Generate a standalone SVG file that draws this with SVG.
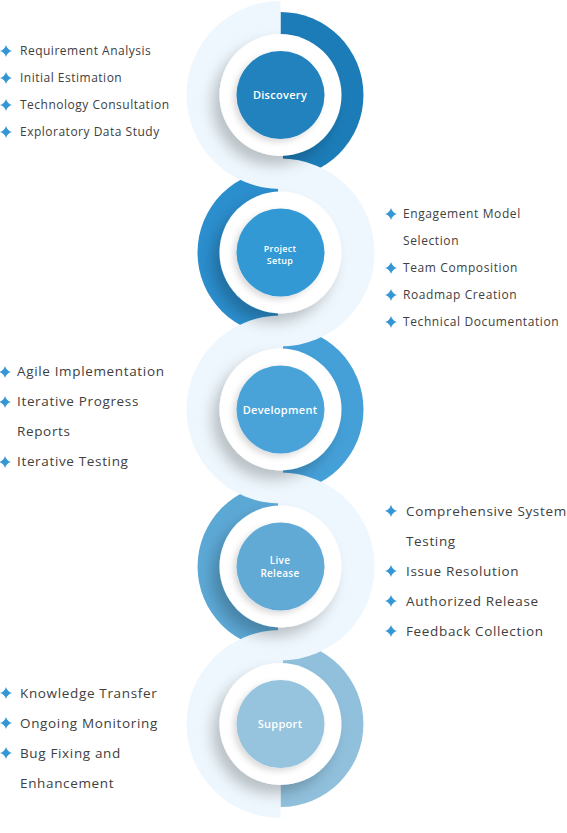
<svg xmlns="http://www.w3.org/2000/svg" xmlns:xlink="http://www.w3.org/1999/xlink" width="567" height="833" viewBox="0 0 567 833">
<style>
.pale{fill:#eef7fd}
.white{fill:#ffffff}
.lbl{font-family:"Open Sans","Liberation Sans",sans-serif;font-weight:600;fill:#ffffff;text-anchor:middle;letter-spacing:0.3px}
.item{font-family:"Open Sans","Liberation Sans",sans-serif;fill:#404040}
.s1{font-size:12px;letter-spacing:0.5px}
.s2{font-size:12px;letter-spacing:0.6px}
.s3{font-size:13.5px;letter-spacing:0.65px}
.bul{fill:#3596d5}
</style>
<defs>
<filter id="sh" x="-40%" y="-40%" width="180%" height="180%">
<feDropShadow dx="-7" dy="9" stdDeviation="7" flood-color="#000" flood-opacity="0.22"/>
</filter>
<filter id="sh2" x="-30%" y="-30%" width="160%" height="160%">
<feDropShadow dx="-3" dy="3" stdDeviation="3" flood-color="#000" flood-opacity="0.15"/>
</filter>
<path id="b" d="M0,-6 Q1.3,-1.3 6,0 Q1.3,1.3 0,6 Q-1.3,1.3 -6,0 Q-1.3,-1.3 0,-6Z"/>
</defs>
<rect width="567" height="833" fill="#ffffff"/>
<!-- coloured half rings -->
<g id="arcs">
<path d="M280.5,12 A83,83 0 0 1 280.5,178 Z" fill="#1c7cb8"/>
<path d="M280.5,169.5 A83,83 0 0 0 280.5,335.5 Z" fill="#2b8ecd"/>
<path d="M280.5,326.5 A83,83 0 0 1 280.5,492.5 Z" fill="#45a0d8"/>
<path d="M280.5,483.5 A83,83 0 0 0 280.5,649.5 Z" fill="#5ca8d5"/>
<path d="M280.5,641 A83,83 0 0 1 280.5,807 Z" fill="#90c0dc"/>
</g>
<!-- pale S band -->
<g id="connectors">
<path class="pale" d="M280.5,1 A94,94 0 0 0 280.5,189 Z"/>
<path class="pale" d="M280.5,158.5 A94,94 0 0 1 280.5,346.5 Z"/>
<path class="pale" d="M280.5,315.5 A94,94 0 0 0 280.5,503.5 Z"/>
<path class="pale" d="M280.5,472.5 A94,94 0 0 1 280.5,660.5 Z"/>
<path class="pale" d="M280.5,630 A94,94 0 0 0 280.5,818 Z"/>
<rect class="pale" x="278" y="150" width="5" height="46"/>
<rect class="pale" x="278" y="307" width="5" height="46"/>
<rect class="pale" x="278" y="464" width="5" height="46"/>
<rect class="pale" x="278" y="621" width="5" height="46"/>
</g>
<g id="discovery">
<circle class="white" cx="280.5" cy="95" r="61" filter="url(#sh)"/>
<circle cx="280.5" cy="95" r="44" fill="#2182be" filter="url(#sh2)"/>
<text class="lbl" x="280" y="99" font-size="11">Discovery</text>
</g>
<g id="project-setup">
<circle class="white" cx="280.5" cy="252.5" r="61" filter="url(#sh)"/>
<circle cx="280.5" cy="252.5" r="44" fill="#3399d5" filter="url(#sh2)"/>
<text class="lbl" x="280" y="251.5" font-size="9">Project</text>
<text class="lbl" x="280" y="263.5" font-size="9">Setup</text>
</g>
<g id="development">
<circle class="white" cx="280.5" cy="409.5" r="61" filter="url(#sh)"/>
<circle cx="280.5" cy="409.5" r="44" fill="#4aa3d9" filter="url(#sh2)"/>
<text class="lbl" x="280" y="414" font-size="11">Development</text>
</g>
<g id="live-release">
<circle class="white" cx="280.5" cy="566.5" r="61" filter="url(#sh)"/>
<circle cx="280.5" cy="566.5" r="44" fill="#62aad6" filter="url(#sh2)"/>
<text class="lbl" x="280" y="563.5" font-size="10">Live</text>
<text class="lbl" x="280" y="577" font-size="10">Release</text>
</g>
<g id="support">
<circle class="white" cx="280.5" cy="724" r="61" filter="url(#sh)"/>
<circle cx="280.5" cy="724" r="44" fill="#96c4de" filter="url(#sh2)"/>
<text class="lbl" x="280" y="728" font-size="11">Support</text>
</g>
<g id="list-discovery">
<use xlink:href="#b" class="bul" x="6" y="51"/>
<use xlink:href="#b" class="bul" x="6" y="78"/>
<use xlink:href="#b" class="bul" x="6" y="105"/>
<use xlink:href="#b" class="bul" x="6" y="132"/>
<text class="item s1" x="20" y="55">Requirement Analysis</text>
<text class="item s1" x="20" y="82">Initial Estimation</text>
<text class="item s1" x="20" y="109">Technology Consultation</text>
<text class="item s1" x="20" y="136">Exploratory Data Study</text>
</g>
<g id="list-project-setup">
<use xlink:href="#b" class="bul" x="391" y="214"/>
<use xlink:href="#b" class="bul" x="391" y="268"/>
<use xlink:href="#b" class="bul" x="391" y="295"/>
<use xlink:href="#b" class="bul" x="391" y="322"/>
<text class="item s2" x="403" y="218">Engagement Model</text>
<text class="item s2" x="403" y="245">Selection</text>
<text class="item s2" x="403" y="272">Team Composition</text>
<text class="item s2" x="403" y="299">Roadmap Creation</text>
<text class="item s2" x="403" y="326">Technical Documentation</text>
</g>
<g id="list-development">
<use xlink:href="#b" class="bul" x="5" y="372"/>
<use xlink:href="#b" class="bul" x="5" y="402"/>
<use xlink:href="#b" class="bul" x="5" y="462"/>
<text class="item s3" x="17" y="376">Agile Implementation</text>
<text class="item s3" x="17" y="406">Iterative Progress</text>
<text class="item s3" x="17" y="436">Reports</text>
<text class="item s3" x="17" y="466">Iterative Testing</text>
</g>
<g id="list-live-release">
<use xlink:href="#b" class="bul" x="391" y="511"/>
<use xlink:href="#b" class="bul" x="391" y="571"/>
<use xlink:href="#b" class="bul" x="391" y="601"/>
<use xlink:href="#b" class="bul" x="391" y="631"/>
<text class="item s3" x="406" y="516">Comprehensive System</text>
<text class="item s3" x="406" y="546">Testing</text>
<text class="item s3" x="406" y="576">Issue Resolution</text>
<text class="item s3" x="406" y="606">Authorized Release</text>
<text class="item s3" x="406" y="636">Feedback Collection</text>
</g>
<g id="list-support">
<use xlink:href="#b" class="bul" x="6" y="693"/>
<use xlink:href="#b" class="bul" x="6" y="723"/>
<use xlink:href="#b" class="bul" x="6" y="753"/>
<text class="item s3" x="20" y="698">Knowledge Transfer</text>
<text class="item s3" x="20" y="728">Ongoing Monitoring</text>
<text class="item s3" x="20" y="758">Bug Fixing and</text>
<text class="item s3" x="20" y="788">Enhancement</text>
</g>
</svg>
